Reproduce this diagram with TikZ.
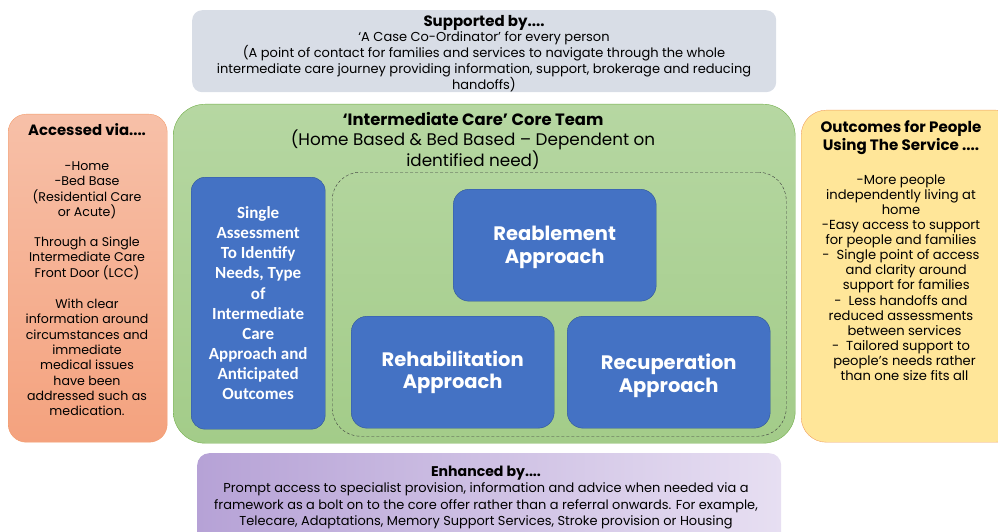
\documentclass[tikz,border=0pt]{standalone}
\usepackage{fontspec}
\setmainfont{Poppins}
\newfontfamily\calibri{Carlito}
\usepackage{xcolor}
\usepackage{tikz}
\usetikzlibrary{positioning}
\definecolor{topgray}{HTML}{D8DDE6}
\definecolor{salmontop}{HTML}{F7C0A8}
\definecolor{salmonbot}{HTML}{F4A27E}
\definecolor{salmonline}{HTML}{F39C6B}
\definecolor{greentop}{HTML}{B6D7A2}
\definecolor{greenbot}{HTML}{A3CC89}
\definecolor{greenline}{HTML}{72AE4A}
\definecolor{apblue}{HTML}{4472C4}
\definecolor{apline}{HTML}{2F5597}
\definecolor{yellowfill}{HTML}{FFE699}
\definecolor{yellowline}{HTML}{F0A060}
\definecolor{purpleleft}{HTML}{B6A2D6}
\definecolor{purpleright}{HTML}{E7DFF2}
\tikzset{
    boxnode/.style = {draw, rectangle, inner sep = 0em, anchor=north west},
    textnode/.style = {draw=none, fill=none, rectangle, inner sep = 0em, align=center},
    approachnode/.style = {boxnode, fill=apblue, draw=apline, rounded corners=16pt,
      minimum width=203pt, minimum height=112pt, text=white, align=center,
      font=\fontsize{19.5}{22.5}\selectfont\bfseries},
    smalltext/.style = {font=\fontsize{12.6}{15.3}\selectfont}
}
\newcommand{\boxtitle}[2][15]{{\fontsize{#1}{16}\selectfont\bfseries #2}}

\begin{document}
\begin{tikzpicture}[x=1pt, y=-1pt]
    \clip (0,0) rectangle (998,532);

    % outer panels
    \node [boxnode, name=supported, fill=topgray, draw=none, rounded corners=10pt,
        minimum width=584pt, minimum height=82pt] at (192,10) {};
    \node [boxnode, name=accessed, top color=salmontop, bottom color=salmonbot, draw=salmonline,
        rounded corners=18pt, minimum width=159pt, minimum height=328pt] at (8,114) {};
    \node [boxnode, name=core, top color=greentop, bottom color=greenbot, draw=greenline,
        rounded corners=32pt, minimum width=622pt, minimum height=339pt] at (173,104) {};
    \node [boxnode, name=outcomes, fill=yellowfill, draw=yellowline,
        rounded corners=25pt, minimum width=220pt, minimum height=332pt] at (801,110) {};
    \node [boxnode, name=enhanced, left color=purpleleft, right color=purpleright, draw=none,
        rounded corners=12pt, minimum width=584pt, minimum height=100pt] at (197,453) {};

    % inside the core team
    \node [boxnode, name=assess, fill=apblue, draw=apline, rounded corners=14pt,
        minimum width=134pt, minimum height=252pt] at (191,177) {};
    \node [boxnode, name=approaches, draw=black!75, dashed, dash pattern=on 3pt off 2pt,
        rounded corners=28pt, minimum width=454pt, minimum height=264pt] at (332,172) {};
    \node [approachnode, name=reablement] at (453,189) {\rule{0pt}{19pt}Reablement\\Approach};
    \node [approachnode, name=rehab] at (351,316) {Rehabilitation\\Approach};
    \node [approachnode, name=recup] at (567,316) {\rule{0pt}{23pt}Recuperation\\Approach};

    % texts
    \node [textnode, name=supportedtext, anchor=north,
        font=\fontsize{13}{15.7}\selectfont] at (484,15) {%
        \boxtitle{Supported by....}\\
        `A Case Co-Ordinator' for every person\\
        (A point of contact for families and services to navigate through the whole\\
        intermediate care journey providing information, support, brokerage and reducing\\
        handoffs)};

    \node [textnode, name=accessedtext, smalltext, anchor=north] at (87,123) {%
        \boxtitle[14.9]{Accessed via....}\\[20pt]
        -Home\\ -Bed Base\\ (Residential Care\\ or Acute)\\[15pt]
        Through a Single\\ Intermediate Care\\ Front Door (LCC)\\[16pt]
        With clear\\ information around\\ circumstances and\\ immediate\\
        medical issues\\ have been\\ addressed such as\\ medication.};

    \node [textnode, name=coretext, anchor=north,
        font=\fontsize{16.8}{20}\selectfont] at (473,112) {%
        {\fontsize{16.4}{20}\selectfont\bfseries `Intermediate Care' Core Team}\\
        (Home Based \& Bed Based -- Dependent on\\ identified need)};

    \node [textnode, name=assesstext, text=white,
        font=\calibri\fontsize{17}{20.1}\selectfont\bfseries] at (assess.center) {%
        Single\\ Assessment\\ To Identify\\ Needs, Type\\ of\\ Intermediate\\ Care\\
        Approach and\\ Anticipated\\ Outcomes};

    \node [textnode, name=outcomestext, font=\fontsize{13.1}{15.1}\selectfont,
        anchor=north] at (901,120) {%
        \boxtitle[15.1]{Outcomes for People}\\[1pt] \boxtitle[15.1]{Using The Service ....}\\[19pt]
        -More people\\ independently living at\\ home\\
        -Easy access to support\\ for people and families\\
        -\ \ Single point of access\\ \ \ \ and clarity around\\ \ \ \ support for families\\
        -\ \ Less handoffs and\\ reduced assessments\\ \ \ between services\\
        -\ \ Tailored support to\\ \ \ people's needs rather\\ \ \ than one size fits all};

    \node [textnode, name=enhancedtext, anchor=north,
        font=\fontsize{12.95}{16.2}\selectfont] at (486,466) {%
        \boxtitle[14.1]{Enhanced by....}\\
        Prompt access to specialist provision, information and advice when needed via a\\
        framework as a bolt on to the core offer rather than a referral onwards. For example,\\
        Telecare, Adaptations, Memory Support Services, Stroke provision or Housing};
\end{tikzpicture}
\end{document}
